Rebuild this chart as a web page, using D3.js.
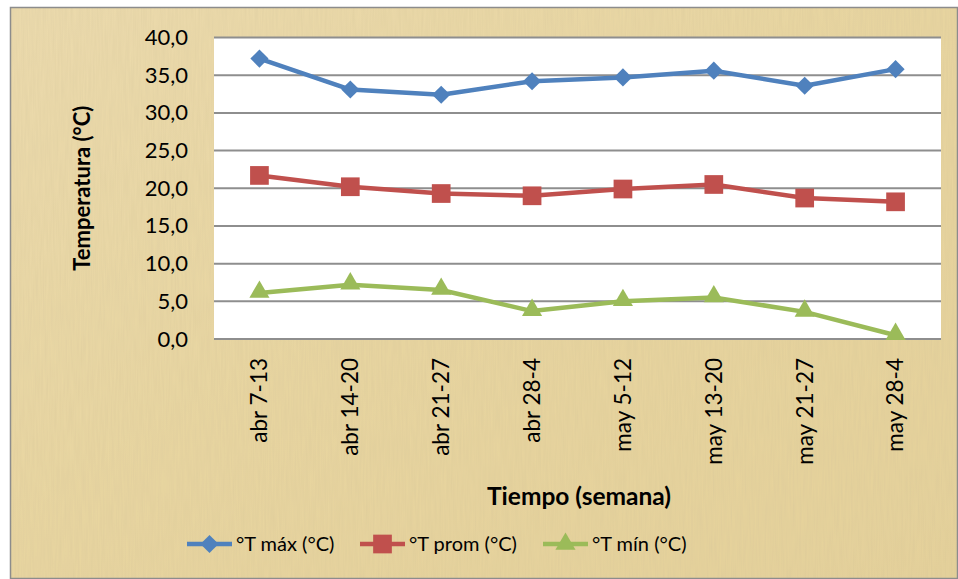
<!DOCTYPE html>
<html>
<head>
<meta charset="utf-8">
<script src="https://cdn.jsdelivr.net/npm/d3@7"></script>
<style>
  body { margin: 0; background: #fff; }
  text { font-family: Lato, "Open Sans", "Noto Sans", sans-serif; fill: #000; }
</style>
</head>
<body>
<div id="chart"></div>
<script>
// weeks on the x axis
var semanas = [ "abr 7-13", "abr 14-20", "abr 21-27", "abr 28-4", "may 5-12", "may 13-20", "may 21-27", "may 28-4" ];
// temperatures (°C)
var tMax  = [ 37.2, 33.1, 32.4, 34.2, 34.7, 35.6, 33.6, 35.8 ];
var tProm = [ 21.7, 20.2, 19.3, 19.0, 19.9, 20.5, 18.7, 18.2 ];
var tMin  = [ 6.1, 7.2, 6.5, 3.7, 5.0, 5.5, 3.6, 0.5 ];
var yTicks = [ 0, 5, 10, 15, 20, 25, 30, 35, 40 ];
var serieNames = [ "°T máx (°C)", "°T prom (°C)", "°T mín (°C)" ];

var width = 958, height = 579;
var margin = { top: 37.5, right: 17, bottom: 240, left: 214 };
var innerWidth = width - margin.left - margin.right,
    innerHeight = height - margin.top - margin.bottom;

var series = [
  { name: serieNames[ 0 ], values: tMax,  color: "#4F81BD", symbol: d3.symbolSquare,   size: 165, rot: 45 },
  { name: serieNames[ 1 ], values: tProm, color: "#C0504D", symbol: d3.symbolSquare,   size: 350, rot: 0 },
  { name: serieNames[ 2 ], values: tMin,  color: "#9BBB59", symbol: d3.symbolTriangle, size: 175, rot: 0 }
];

var svg = d3.select( "#chart" ).append( "svg" )
  .attr( "width", width )
  .attr( "height", height );

// parchment background
var defs = svg.append( "defs" );
var grad = defs.append( "linearGradient" ).attr( "id", "bg" )
  .attr( "x1", 0 ).attr( "y1", 0 ).attr( "x2", 1 ).attr( "y2", 1 );
grad.append( "stop" ).attr( "offset", 0 ).attr( "stop-color", "#EDDCAE" );
grad.append( "stop" ).attr( "offset", 0.5 ).attr( "stop-color", "#E9D6A0" );
grad.append( "stop" ).attr( "offset", 1 ).attr( "stop-color", "#E6D29A" );

var filt = defs.append( "filter" ).attr( "id", "paper" )
  .attr( "x", 0 ).attr( "y", 0 ).attr( "width", 1 ).attr( "height", 1 );
filt.append( "feTurbulence" )
  .attr( "type", "fractalNoise" )
  .attr( "baseFrequency", "0.6 0.03" )
  .attr( "numOctaves", 2 )
  .attr( "seed", 3 )
  .attr( "result", "noise" );
filt.append( "feColorMatrix" )
  .attr( "in", "noise" )
  .attr( "type", "matrix" )
  .attr( "values", "0 0 0 0 0.6  0 0 0 0 0.5  0 0 0 0 0.3  0 0 0 0.3 0" )
  .attr( "result", "tint" );
filt.append( "feComposite" )
  .attr( "in", "tint" ).attr( "in2", "SourceGraphic" ).attr( "operator", "over" );

svg.append( "rect" )
  .attr( "x", 10 ).attr( "y", 7.5 )
  .attr( "width", width - 10 ).attr( "height", height - 7.5 )
  .style( "fill", "url(#bg)" )
  .attr( "filter", "url(#paper)" );

svg.append( "rect" )
  .attr( "x", 10.5 ).attr( "y", 7.5 )
  .attr( "width", width - 11 ).attr( "height", height - 8 )
  .style( "fill", "none" )
  .style( "stroke", "#8c8c8c" )
  .style( "stroke-width", 1.5 );

var g = svg.append( "g" )
  .attr( "transform", "translate(" + margin.left + "," + margin.top + ")" );

// scales
var x = d3.scaleBand().domain( semanas ).range( [ 0, innerWidth ] );
var y = d3.scaleLinear().domain( [ 0, 40 ] ).range( [ innerHeight, 0 ] );
var fmt = function( v ) { return d3.format( ".1f" )( v ).replace( ".", "," ); };

// plot area
g.append( "rect" )
  .attr( "x", 0 ).attr( "y", 0 )
  .attr( "width", innerWidth ).attr( "height", innerHeight )
  .style( "fill", "#fff" );

// gridlines
g.selectAll( ".grid" )
  .data( yTicks )
  .enter()
  .append( "line" )
    .attr( "class", "grid" )
    .attr( "x1", 0 )
    .attr( "x2", innerWidth )
    .attr( "y1", d => y( d ) )
    .attr( "y2", d => y( d ) )
    .style( "stroke", "#8e8e8e" )
    .style( "stroke-width", 2 );

// y axis labels
var yAxis = g.append( "g" )
  .call( d3.axisLeft( y ).tickValues( yTicks ).tickFormat( fmt ).tickSize( 0 ).tickPadding( 26 ) );
yAxis.select( ".domain" ).remove();
yAxis.selectAll( "text" )
  .style( "font-family", "Lato, 'Open Sans', sans-serif" )
  .style( "font-size", "22px" )
  .style( "fill", "#000" );

// x axis labels
var xAxis = g.append( "g" )
  .attr( "transform", "translate(0," + innerHeight + ")" )
  .call( d3.axisBottom( x ).tickSize( 0 ) );
xAxis.select( ".domain" ).remove();
xAxis.selectAll( "text" )
  .attr( "transform", "rotate(-90)" )
  .attr( "x", -19 )
  .attr( "y", 0 )
  .attr( "dy", "0.35em" )
  .attr( "text-anchor", "end" )
  .style( "font-family", "Lato, 'Open Sans', sans-serif" )
  .style( "font-size", "22.5px" )
  .style( "fill", "#000" );

// lines and markers
var line = d3.line()
  .x( ( d, i ) => x( semanas[ i ] ) + x.bandwidth() / 2 )
  .y( d => y( d ) );

var sg = g.selectAll( ".serie" )
  .data( series )
  .enter()
  .append( "g" )
    .attr( "class", "serie" );

sg.append( "path" )
  .attr( "d", d => line( d.values ) )
  .style( "fill", "none" )
  .style( "stroke", d => d.color )
  .style( "stroke-width", 4.5 )
  .style( "stroke-linejoin", "round" );

sg.each( function( s ) {
  d3.select( this ).selectAll( "path.mark" )
    .data( s.values )
    .enter()
    .append( "path" )
      .attr( "class", "mark" )
      .attr( "transform", ( d, i ) => "translate(" + ( x( semanas[ i ] ) + x.bandwidth() / 2 ) + "," + ( y( d ) + ( s.symbol === d3.symbolTriangle ? -1 : 0 ) ) + ") rotate(" + s.rot + ")" )
      .attr( "d", d3.symbol().type( s.symbol ).size( s.size ) )
      .style( "fill", s.color );
} );

// axis titles
svg.append( "text" )
  .attr( "transform", "translate(90," + ( margin.top + innerHeight / 2 ) + ") rotate(-90)" )
  .attr( "text-anchor", "middle" )
  .style( "font-size", "22px" )
  .style( "font-weight", "bold" )
  .text( "Temperatura (°C)" );

svg.append( "text" )
  .attr( "x", 579 )
  .attr( "y", 505 )
  .attr( "text-anchor", "middle" )
  .style( "font-size", "24.5px" )
  .style( "font-weight", "bold" )
  .text( "Tiempo (semana)" );

// legend
var legendX = [ 187, 360, 543 ];
var lg = svg.selectAll( ".legend" )
  .data( series )
  .enter()
  .append( "g" )
    .attr( "class", "legend" )
    .attr( "transform", ( d, i ) => "translate(" + legendX[ i ] + ",544)" );

lg.append( "line" )
  .attr( "x1", 0 ).attr( "x2", 45 )
  .attr( "y1", 0 ).attr( "y2", 0 )
  .style( "stroke", d => d.color )
  .style( "stroke-width", 4.5 );

lg.append( "path" )
  .attr( "transform", d => "translate(22.5,0) rotate(" + d.rot + ")" )
  .attr( "d", d => d3.symbol().type( d.symbol ).size( d.size )() )
  .style( "fill", d => d.color );

lg.append( "text" )
  .attr( "x", 49 )
  .attr( "y", 0 )
  .attr( "dy", "0.35em" )
  .style( "font-size", "20px" )
  .text( d => d.name );
</script>
</body>
</html>
